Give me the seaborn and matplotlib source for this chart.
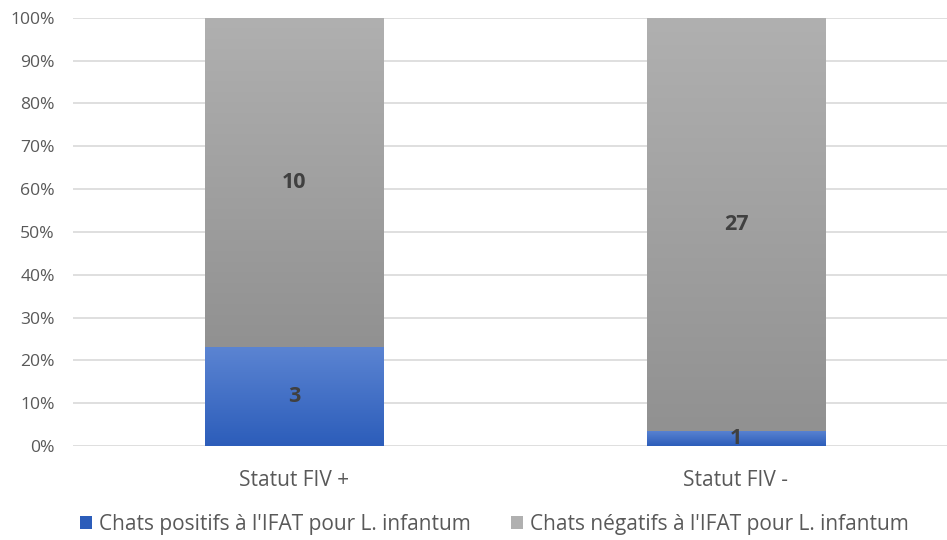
import numpy as np
import pandas as pd
import matplotlib
matplotlib.use("Agg")
import matplotlib.pyplot as plt
import seaborn as sns
from matplotlib.patches import Patch
from matplotlib.colors import LinearSegmentedColormap

categories = ["Statut FIV +", "Statut FIV -"]
positifs = [3, 1]
negatifs = [10, 27]
series_names = ["Chats positifs à l'IFAT pour L. infantum",
                "Chats négatifs à l'IFAT pour L. infantum"]
yticks = [0, 10, 20, 30, 40, 50, 60, 70, 80, 90, 100]

totals = [p + n for p, n in zip(positifs, negatifs)]
pos_pct = [100 * p / t for p, t in zip(positifs, totals)]
neg_pct = [100 * n / t for n, t in zip(negatifs, totals)]

df = pd.DataFrame({"cat": categories, "pos": pos_pct, "neg": neg_pct,
                   "total": [100.0] * len(categories)})

sns.set_theme(style="white")
plt.rcParams['font.family'] = ['Open Sans', 'DejaVu Sans']

fig = plt.figure(figsize=(9.47, 5.4), dpi=100)
ax = fig.add_axes([0.077, 0.174, 0.9335, 0.793])

blue_top, blue_bot = "#5B84D2", "#2C5DBA"
gray_top, gray_bot = "#B0B0B0", "#919191"

sns.barplot(data=df, x="cat", y="total", color=gray_bot, width=0.403,
            ax=ax, zorder=2, saturation=1)
n_gray = len(ax.patches)
sns.barplot(data=df, x="cat", y="pos", color=blue_bot, width=0.403,
            ax=ax, zorder=3, saturation=1)

patches = list(ax.patches)
gray_patches = patches[:n_gray]
blue_patches = patches[n_gray:]

def grad(patch, ylo, yhi, ctop, cbot, z):
    x0 = patch.get_x()
    x1 = x0 + patch.get_width()
    cmap = LinearSegmentedColormap.from_list("g", [cbot, ctop])
    img = np.linspace(0, 1, 256).reshape(-1, 1)
    im = ax.imshow(img, cmap=cmap, aspect="auto", origin="lower",
                   extent=(x0, x1, ylo, yhi), zorder=z, interpolation="bilinear")
    im.set_clip_path(patch)

for i, p in enumerate(gray_patches):
    grad(p, pos_pct[i], 100, gray_top, gray_bot, 2.1)
    p.set_facecolor("none")
    p.set_edgecolor("none")
for i, p in enumerate(blue_patches):
    grad(p, 0, pos_pct[i], blue_top, blue_bot, 3.1)
    p.set_facecolor("none")
    p.set_edgecolor("none")

ax.set_xlim(-0.5, 1.5)
ax.set_ylim(0, 100)
ax.set_yticks(yticks)
ax.set_yticklabels([f"{t}%" for t in yticks])
ax.yaxis.grid(True, color="#D9D9D9", linewidth=1.2, zorder=0)
ax.set_axisbelow(True)
for s in ax.spines.values():
    s.set_visible(False)
ax.tick_params(axis="y", length=0, pad=13, labelsize=12.6, labelcolor="#595959")
ax.tick_params(axis="x", length=0, pad=17, labelsize=15, labelcolor="#595959")
ax.set_xlabel("")
ax.set_ylabel("")

for i in range(len(categories)):
    ax.text(i, pos_pct[i] / 2, str(positifs[i]), ha="center", va="center",
            fontsize=15.5, fontweight="bold", color="#404040", zorder=5)
    ax.text(i, pos_pct[i] + neg_pct[i] / 2, str(negatifs[i]), ha="center",
            va="center", fontsize=15.5, fontweight="bold", color="#404040", zorder=5)

handles = [Patch(facecolor=blue_bot, edgecolor="none"),
           Patch(facecolor=gray_top, edgecolor="none")]
fig.legend(handles, series_names, loc="center", bbox_to_anchor=(0.522, 0.029),
           ncol=2, frameon=False, fontsize=15, handlelength=0.6,
           handleheight=0.6, handletextpad=0.35, columnspacing=1.9,
           labelcolor="#595959")

fig.savefig("out.png", dpi=100)
